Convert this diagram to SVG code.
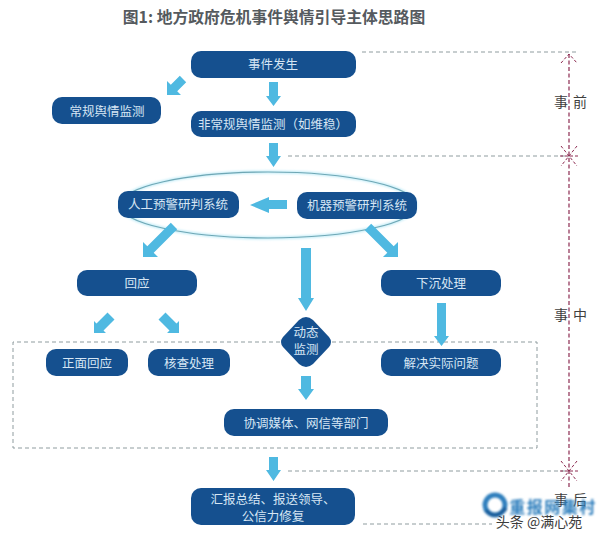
<svg xmlns="http://www.w3.org/2000/svg" width="600" height="543" viewBox="0 0 600 543">
  <style>
    text { font-family: "Noto Sans CJK SC", "Liberation Sans", sans-serif; text-anchor: middle; }
    .title { font-size: 15.800px; font-weight: 700; fill: #555a5e; }
    .box { fill: #15508f; }
    .label { font-size: 12.500px; fill: #d6e6f4; }
    .arrow { fill: #4fb9e1; }
    .guide { fill: none; stroke: #8f9c9f; stroke-width: 1; stroke-dasharray: 4 3; }
    .axis { fill: none; stroke: #8c2a50; stroke-width: 1.2; stroke-dasharray: 4 2.5; }
    .burst { fill: none; stroke: #8c2a50; stroke-width: 1; stroke-dasharray: 3 2; }
    .phase { font-size: 14px; fill: #3f3f3f; letter-spacing: 5px; }
    .mark { font-size: 14px; fill: #3c3c3c; }
    .brand { font-size: 16px; font-weight: 700; fill: #2f7fbd; letter-spacing: 1.500px; }
  </style>
  <defs>
    <filter id="soft" x="-20%" y="-20%" width="140%" height="140%"><feGaussianBlur stdDeviation="0.8"/></filter>
    <filter id="glow" x="-10%" y="-20%" width="120%" height="140%"><feGaussianBlur stdDeviation="1.2"/></filter>
  </defs>
  <rect width="600" height="543" fill="#ffffff"/>
  <text class="title" x="274" y="23">图1: 地方政府危机事件舆情引导主体思路图</text>

  <g id="connectors">
    <!-- phase guide lines -->
    <path class="guide" d="M362 52H577M288 156H570M288 471H570M363 524H492"/>
    <path class="guide" d="M280 342H13V448H537V342H332"/>
    <path class="axis" d="M569 54V487"/>
    <path class="burst" d="M561 63L569 54L577 63M561 146L577 166M577 146L561 166M561 461L577 481M577 461L561 481M560 156H578M560 471H578"/>

    <!-- monitoring ellipse around the two judgement systems -->
    <ellipse cx="268" cy="205" rx="148" ry="33" fill="none" stroke="#c4edf8" stroke-width="3" filter="url(#glow)"/>
    <ellipse cx="268" cy="205" rx="148" ry="33" fill="none" stroke="#6fa7b5" stroke-width="1.100"/>

    <!-- block arrows -->
    <polygon class="arrow" points="269,82 278,82 278,96 281,96 273.500,106 266,96 269,96"/>
    <polygon class="arrow" points="269,143 278,143 278,156 281,156 273.500,167 266,156 269,156"/>
    <polygon class="arrow" points="269,457 278,457 278,470 281,470 273.500,481 266,470 269,470"/>
    <polygon class="arrow" points="301,248 311,248 311,298 314,298 306,311 298,298 301,298"/>
    <polygon class="arrow" points="301,376 311,376 311,389 314,389 306,400 298,389 301,389"/>
    <polygon class="arrow" points="437,303 446,303 446,336 449,336 441.500,346 434,336 437,336"/>
    <polygon class="arrow" points="287,200 269,200 269,197 250,205 269,213 269,209 287,209"/>
    <polygon class="arrow" points="167,95 167,81 170.800,84.800 179.800,75.800 186.200,82.200 177.200,91.200 181,95"/>
    <polygon class="arrow" points="143,257 143,242 147.300,246.300 170.800,222.800 177.200,229.200 153.700,252.700 158,257"/>
    <polygon class="arrow" points="398,257 398,242 393.700,246.300 371.200,223.800 364.800,230.200 387.300,252.700 383,257"/>
    <polygon class="arrow" points="94,333 94,321 96.500,323.500 107.500,312.500 114.500,319.500 103.500,330.500 106,333"/>
    <polygon class="arrow" points="179,333 179,321 176.500,323.500 165.500,312.500 158.500,319.500 169.500,330.500 167,333"/>
  </g>

  <g id="node-event"><rect class="box" x="191" y="51" width="165" height="27" rx="10"/><text class="label" x="273" y="69">事件发生</text></g>
  <g id="node-routine"><rect class="box" x="52" y="97" width="109" height="27" rx="10"/><text class="label" x="107" y="116">常规舆情监测</text></g>
  <g id="node-special"><rect class="box" x="191" y="111" width="165" height="26" rx="10"/><text class="label" x="273" y="129">非常规舆情监测（如维稳）</text></g>
  <g id="node-manual"><rect class="box" x="118" y="191" width="121" height="27" rx="10"/><text class="label" x="178" y="209">人工预警研判系统</text></g>
  <g id="node-machine"><rect class="box" x="297" y="192" width="120" height="27" rx="10"/><text class="label" x="357" y="210">机器预警研判系统</text></g>
  <g id="node-response"><rect class="box" x="77" y="270" width="120" height="26" rx="10"/><text class="label" x="137" y="288">回应</text></g>
  <g id="node-sink"><rect class="box" x="381" y="270" width="120" height="26" rx="10"/><text class="label" x="441" y="288">下沉处理</text></g>
  <g id="node-direct"><rect class="box" x="46" y="349" width="82" height="27" rx="10"/><text class="label" x="87" y="368">正面回应</text></g>
  <g id="node-verify"><rect class="box" x="148" y="349" width="82" height="27" rx="10"/><text class="label" x="189" y="368">核查处理</text></g>
  <g id="node-solve"><rect class="box" x="381" y="349" width="120" height="27" rx="10"/><text class="label" x="441" y="368">解决实际问题</text></g>
  <g id="node-dynamic">
    <path class="box" d="M299 320Q306 314 313 320L329 337Q333 342 329 347L313 364Q306 370 299 364L283 347Q279 342 283 337Z"/>
    <text class="label" x="306" y="337">动态</text><text class="label" x="306" y="354">监测</text>
  </g>
  <g id="node-coordinate"><rect class="box" x="224" y="409" width="164" height="27" rx="10"/><text class="label" x="306" y="428">协调媒体、网信等部门</text></g>
  <g id="node-report">
    <rect class="box" x="191" y="488" width="164" height="37" rx="10"/>
    <text class="label" x="273" y="504">汇报总结、报送领导、</text><text class="label" x="273" y="521">公信力修复</text>
  </g>

  <text class="phase" x="573" y="107">事前</text>
  <text class="phase" x="573" y="320">事中</text>
  <text class="phase" x="573" y="505">事后</text>

  <!-- corner credit and seal -->
  <text class="mark" x="539" y="527">头条 @满心苑</text>
  <g filter="url(#soft)">
    <circle cx="495" cy="505" r="10" fill="none" stroke="#2f7fbd" stroke-width="5"/>
    <path d="M486 510Q495 521 506 508" fill="none" stroke="#1c5f9c" stroke-width="4"/>
    <text class="brand" x="553" y="513">重报网集村</text>
  </g>
</svg>
